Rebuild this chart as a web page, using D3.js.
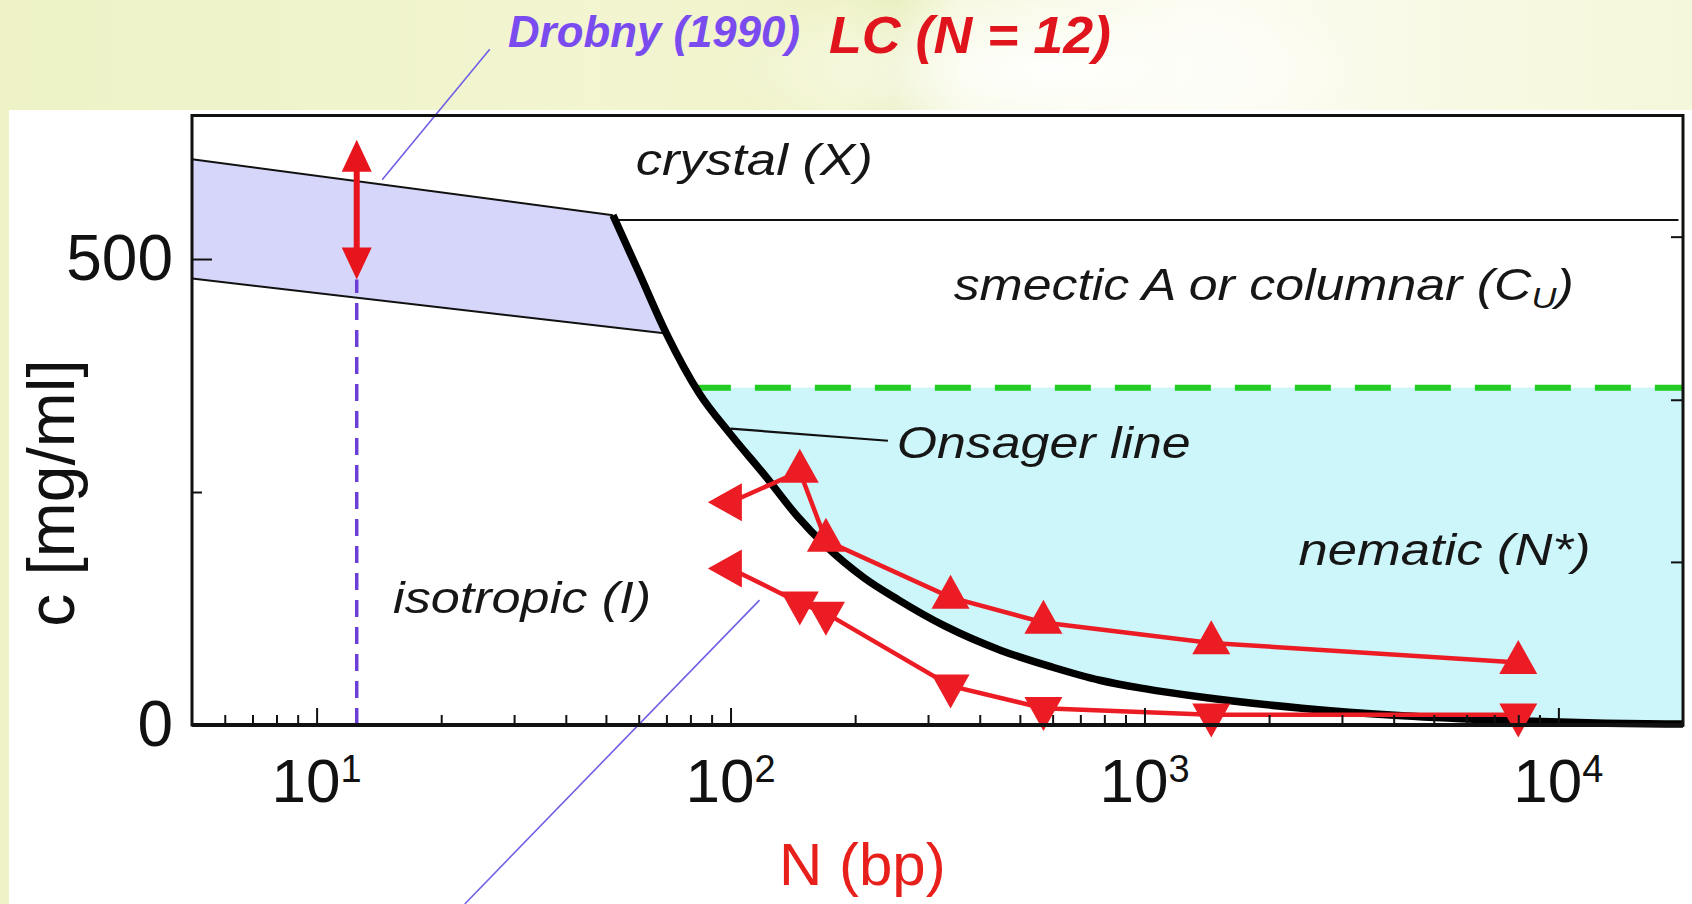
<!DOCTYPE html>
<html>
<head>
<meta charset="utf-8">
<script src="https://cdn.jsdelivr.net/npm/d3@7"></script>
<style>
html,body{margin:0;padding:0;background:#fff;overflow:hidden}
</style>
</head>
<body>
<svg id="chart" width="1692" height="904"></svg>
<script>
// ---------------- data ----------------
// Onsager line: N (bp) vs c (mg/ml)
const onsagerN = [52, 60, 70, 84, 100, 122, 145, 170, 210, 255, 330, 450, 600, 780, 1000, 1370, 2400, 4200, 7400, 13000, 20000];
const onsagerC = [547, 486, 420, 356, 312, 266, 224, 192, 158, 134, 106, 80, 62, 48, 39, 30, 18, 10, 5, 2, 1];

// LC measurements, upper (onset of nematic) and lower series
const upperN = [100, 147, 170, 340, 570, 1450, 8000];
const upperC = [239, 272, 198, 137, 110, 88, 67];
const upperShape = ["left", "up", "up", "up", "up", "up", "up"];
const lowerN = [100, 147, 170, 340, 570, 1450, 8000];
const lowerC = [168, 131, 120, 42, 18, 11, 11];
const lowerShape = ["left", "down", "down", "down", "down", "down", "down"];

// Drobny (1990) band
const bandUpperN = [5, 52];
const bandUpperC = [607, 547];
const bandLowerN = [5, 70];
const bandLowerC = [479, 420];

// phase boundaries
const crystalC = 542;
const crystalN = [52, 19500];
const nematicTopC = 362;
const nematicTopN = [82, 20000];

// Drobny N = 12 marker
const drobnyN = 12.5;
const drobnyArrowC = [478, 628];
const drobnyDashC = [0, 478];

// annotation pointer lines [N, c]
const onsagerPointer = [[100, 318], [240, 305]];
const drobnyPointer = [[14.4, 585], [26.2, 725]];
const lowerPointer = [[117.5, 134], [22.8, -192]];

// ticks
const xMajorTicks = [10, 100, 1000, 10000];
const xMajorExp = ["1", "2", "3", "4"];
const xMinorTicks = [6, 7, 8, 9, 20, 30, 40, 50, 60, 70, 80, 90, 200, 300, 400, 500, 600, 700, 800, 900, 2000, 3000, 4000, 5000, 6000, 7000, 8000, 9000];
const yMajorTicks = [0, 500];
const yMinorTicks = [250];
const rightTicks = [175, 349, 524];

// texts (anchored in data units: N, c)
const regionLabels = [
  {t: "crystal (X)", N: 59, c: 590, len: 237},
  {t: "Onsager line", N: 252, c: 286, len: 294},
  {t: "nematic (N*)", N: 2355, c: 172, len: 292},
  {t: "isotropic (I)", N: 15.3, c: 120, len: 258}
];
const smecticLabel = {N: 346, c: 456, len: 620};

// ---------------- drawing ----------------
const svg = d3.select("#chart");
const W = 1692, H = 904;
const x = d3.scaleLog().domain([5, 20000]).range([192, 1683]);
const y = d3.scaleLinear().domain([0, 654]).range([725, 115.5]);
const X0 = x.range()[0], X1 = x.range()[1], Y0 = y.range()[0], Y1 = y.range()[1];

const defs = svg.append("defs");
const g1 = defs.append("linearGradient").attr("id", "bg").attr("x1", "0").attr("x2", "1").attr("y1", "0").attr("y2", "0");
[["0%", "#eef2c6"], ["35%", "#f2f5d0"], ["50%", "#f0f3c9"], ["53%", "#e8eebb"], ["57%", "#f6f8dd"], ["72%", "#fcfcf3"], ["88%", "#f8f9e2"], ["100%", "#f5f7da"]]
  .forEach(s => g1.append("stop").attr("offset", s[0]).attr("stop-color", s[1]));
const rg = defs.append("radialGradient").attr("id", "glow").attr("cx", "0.5").attr("cy", "0.5").attr("r", "0.5");
rg.append("stop").attr("offset", "0%").attr("stop-color", "#ffffff").attr("stop-opacity", 0.9);
rg.append("stop").attr("offset", "100%").attr("stop-color", "#ffffff").attr("stop-opacity", 0);

svg.append("rect").attr("width", W).attr("height", H).attr("fill", "url(#bg)");
svg.append("ellipse").attr("cx", 1050).attr("cy", 70).attr("rx", 330).attr("ry", 90).attr("fill", "url(#glow)");
// white panel
svg.append("rect").attr("x", 9).attr("y", 110).attr("width", W - 9).attr("height", H - 110).attr("fill", "#ffffff");
svg.append("rect").attr("x", X0).attr("y", Y1).attr("width", X1 - X0).attr("height", Y0 - Y1).attr("fill", "#ffffff");

const onsager = onsagerN.map((n, i) => [n, onsagerC[i]]);
const lineGen = d3.line().x(d => x(d[0])).y(d => y(d[1])).curve(d3.curveMonotoneX);

// nematic (cyan) region: above Onsager line, below nematicTopC
const clipD = lineGen(onsager) + `L${x(onsagerN[onsagerN.length - 1])},${Y1}L${x(onsagerN[0])},${Y1}Z`;
defs.append("clipPath").attr("id", "aboveCurve").append("path").attr("d", clipD);
svg.append("rect")
  .attr("x", x(nematicTopN[0]) - 30).attr("y", y(nematicTopC))
  .attr("width", X1 - x(nematicTopN[0]) + 30).attr("height", Y0 - y(nematicTopC))
  .attr("fill", "#cdf6fa").attr("clip-path", "url(#aboveCurve)");

// Drobny band
const bandPoly = [
  [bandUpperN[0], bandUpperC[0]], [bandUpperN[1], bandUpperC[1]],
  ...onsager.filter(d => d[0] > bandUpperN[1] && d[0] < bandLowerN[1]),
  [bandLowerN[1], bandLowerC[1]], [bandLowerN[0], bandLowerC[0]]
];
svg.append("path").attr("d", d3.line().x(d => x(d[0])).y(d => y(d[1]))(bandPoly) + "Z")
  .attr("fill", "#d6d6fa");
svg.append("line").attr("x1", x(bandUpperN[0])).attr("y1", y(bandUpperC[0])).attr("x2", x(bandUpperN[1])).attr("y2", y(bandUpperC[1]))
  .attr("stroke", "#111").attr("stroke-width", 2);
svg.append("line").attr("x1", x(bandLowerN[0])).attr("y1", y(bandLowerC[0])).attr("x2", x(bandLowerN[1])).attr("y2", y(bandLowerC[1]))
  .attr("stroke", "#111").attr("stroke-width", 2);

// crystal boundary
svg.append("line").attr("x1", x(crystalN[0])).attr("x2", x(crystalN[1])).attr("y1", y(crystalC)).attr("y2", y(crystalC))
  .attr("stroke", "#111").attr("stroke-width", 2);

// green dashed (smectic / nematic boundary)
svg.append("line").attr("x1", x(nematicTopN[0])).attr("x2", x(nematicTopN[1])).attr("y1", y(nematicTopC)).attr("y2", y(nematicTopC))
  .attr("stroke", "#22cc22").attr("stroke-width", 6).attr("stroke-dasharray", "36,24");

// purple dashed vertical line at N = 12
svg.append("line").attr("x1", x(drobnyN)).attr("x2", x(drobnyN)).attr("y1", y(drobnyDashC[0])).attr("y2", y(drobnyDashC[1]))
  .attr("stroke", "#6a3fd8").attr("stroke-width", 3.5).attr("stroke-dasharray", "17,10");

// red double arrow
const ax = x(drobnyN), aTop = y(drobnyArrowC[1]), aBot = y(drobnyArrowC[0]);
const ahW = 30, ahH = 32;
svg.append("line").attr("x1", ax).attr("x2", ax).attr("y1", aTop + ahH - 2).attr("y2", aBot - ahH + 2)
  .attr("stroke", "#e8141b").attr("stroke-width", 6);
svg.append("path").attr("d", `M${ax},${aTop}L${ax + ahW / 2},${aTop + ahH}L${ax - ahW / 2},${aTop + ahH}Z`).attr("fill", "#e8141b");
svg.append("path").attr("d", `M${ax},${aBot}L${ax + ahW / 2},${aBot - ahH}L${ax - ahW / 2},${aBot - ahH}Z`).attr("fill", "#e8141b");

// pointer lines
const ptr = (p, col, w) => svg.append("line")
  .attr("x1", x(p[0][0])).attr("y1", y(p[0][1])).attr("x2", x(p[1][0])).attr("y2", y(p[1][1]))
  .attr("stroke", col).attr("stroke-width", w);
ptr(drobnyPointer, "#6f5fe6", 1.6);
ptr(lowerPointer, "#6f5fe6", 1.6);
ptr(onsagerPointer, "#111", 2.2);

// Onsager line
svg.append("path").attr("d", lineGen(onsager)).attr("fill", "none").attr("stroke", "#000").attr("stroke-width", 7.5);

// LC data series
const triPath = (shape) => {
  const w = 38, h = 34;
  if (shape === "up") return `M0,${-2 * h / 3}L${w / 2},${h / 3}L${-w / 2},${h / 3}Z`;
  if (shape === "down") return `M0,${2 * h / 3}L${w / 2},${-h / 3}L${-w / 2},${-h / 3}Z`;
  return `M${-2 * h / 3},0L${h / 3},${-w / 2}L${h / 3},${w / 2}Z`;
};
const straight = d3.line().x(d => x(d[0])).y(d => y(d[1]));
[[upperN, upperC, upperShape], [lowerN, lowerC, lowerShape]].forEach(([ns, cs, shapes]) => {
  const pts = ns.map((n, i) => [n, cs[i], shapes[i]]);
  svg.append("path").attr("d", straight(pts)).attr("fill", "none").attr("stroke", "#ec1c24").attr("stroke-width", 4.5);
  svg.selectAll(null).data(pts).enter().append("path")
    .attr("transform", d => `translate(${x(d[0])},${y(d[1])})`)
    .attr("d", d => triPath(d[2])).attr("fill", "#ec1c24");
});

// frame
svg.append("rect").attr("x", X0).attr("y", Y1).attr("width", X1 - X0).attr("height", Y0 - Y1)
  .attr("fill", "none").attr("stroke", "#111").attr("stroke-width", 3);
svg.append("line").attr("x1", X0).attr("x2", X1 + 1).attr("y1", Y0).attr("y2", Y0).attr("stroke", "#111").attr("stroke-width", 4);

// axes (ticks inward)
const styleAxis = g => { g.select(".domain").remove(); g.selectAll(".tick line").attr("stroke", "#111").attr("stroke-width", 2); };
svg.append("g").attr("transform", `translate(0,${Y0})`)
  .call(d3.axisBottom(x).tickValues(xMajorTicks).tickSize(-17).tickFormat(() => "")).call(styleAxis);
svg.append("g").attr("transform", `translate(0,${Y0})`)
  .call(d3.axisBottom(x).tickValues(xMinorTicks).tickSize(-10).tickFormat(() => "")).call(styleAxis);
const yAx = svg.append("g").attr("transform", `translate(${X0},0)`)
  .call(d3.axisLeft(y).tickValues(yMajorTicks).tickSize(-20).tickPadding(19).tickFormat(d3.format("d"))).call(styleAxis);
yAx.selectAll("text").attr("font-family", "'Liberation Sans', Arial, sans-serif").attr("font-size", 64).attr("fill", "#111");
svg.append("g").attr("transform", `translate(${X0},0)`)
  .call(d3.axisLeft(y).tickValues(yMinorTicks).tickSize(-10).tickFormat(() => "")).call(styleAxis);
svg.append("g").attr("transform", `translate(${X1},0)`)
  .call(d3.axisRight(y).tickValues(rightTicks).tickSize(-12).tickFormat(() => "")).call(styleAxis);

// x tick labels 10^n
const xl = svg.append("g").attr("font-family", "'Liberation Sans', Arial, sans-serif").attr("fill", "#111");
xMajorTicks.forEach((v, i) => {
  const t = xl.append("text").attr("x", x(v)).attr("y", 802).attr("text-anchor", "middle").attr("font-size", 62);
  t.append("tspan").text("10");
  t.append("tspan").attr("font-size", 38).attr("dy", -20).text(xMajorExp[i]);
});

// axis titles
svg.append("text").attr("transform", `translate(74,493) rotate(-90)`).attr("text-anchor", "middle")
  .attr("font-family", "'Liberation Sans', Arial, sans-serif").attr("font-size", 66).attr("fill", "#111")
  .text("c [mg/ml]");
svg.append("text").attr("x", 779).attr("y", 885)
  .attr("font-family", "'Liberation Sans', Arial, sans-serif").attr("font-size", 60).attr("fill", "#e8201c")
  .text("N (bp)");

// region labels
const narrow = "'Liberation Sans Narrow', 'Arial Narrow', 'Liberation Sans', Arial, sans-serif";
regionLabels.forEach(r => {
  svg.append("text").attr("x", x(r.N)).attr("y", y(r.c))
    .attr("font-family", narrow).attr("font-style", "italic").attr("font-size", 45).attr("fill", "#161616")
    .attr("textLength", r.len).attr("lengthAdjust", "spacingAndGlyphs").text(r.t);
});
const sm = svg.append("text").attr("x", x(smecticLabel.N)).attr("y", y(smecticLabel.c))
  .attr("font-family", narrow).attr("font-style", "italic").attr("font-size", 45).attr("fill", "#161616")
  .attr("textLength", smecticLabel.len).attr("lengthAdjust", "spacingAndGlyphs");
sm.append("tspan").text("smectic A or columnar (C");
sm.append("tspan").attr("font-size", 30).attr("dy", 8).text("U");
sm.append("tspan").attr("dy", -8).text(")");

// header labels
svg.append("text").attr("x", 508).attr("y", 47)
  .attr("font-family", narrow).attr("font-style", "italic").attr("font-weight", "bold").attr("font-size", 45).attr("fill", "#7a4cf0")
  .attr("textLength", 292).attr("lengthAdjust", "spacingAndGlyphs").text("Drobny (1990)");
svg.append("text").attr("x", 829).attr("y", 53)
  .attr("font-family", narrow).attr("font-style", "italic").attr("font-weight", "bold").attr("font-size", 52).attr("fill", "#e0141c")
  .attr("textLength", 282).attr("lengthAdjust", "spacingAndGlyphs").text("LC (N = 12)");
</script>
</body>
</html>
